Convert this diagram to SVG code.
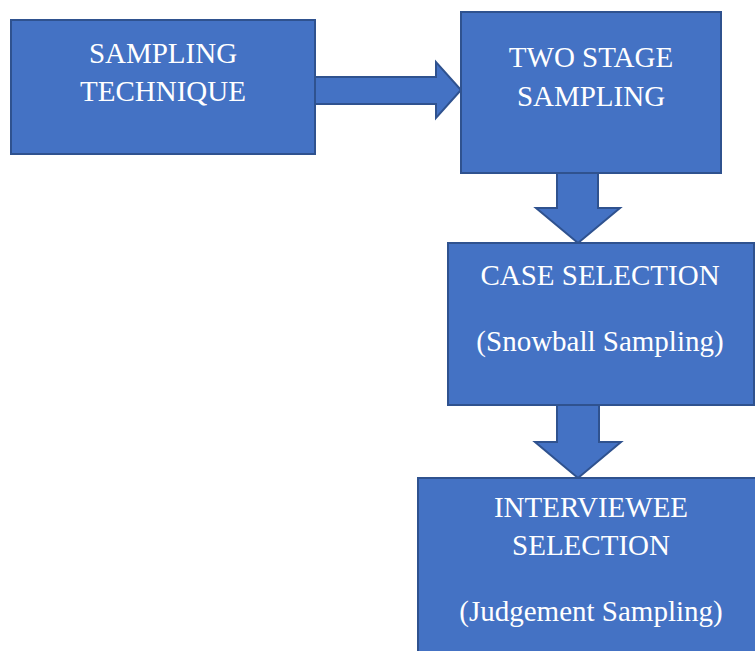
<svg xmlns="http://www.w3.org/2000/svg" width="755" height="651" viewBox="0 0 755 651">
  <style>
    .box { fill: #4472C4; stroke: #2F528F; stroke-width: 2; }
    .arrow { fill: #4472C4; stroke: #2F528F; stroke-width: 2; stroke-linejoin: miter; }
    .label { font-family: "Liberation Serif", "Times New Roman", serif; font-size: 29px; fill: #FFFFFF; text-anchor: middle; }
  </style>
  <rect width="755" height="651" fill="#FFFFFF"/>

  <g id="connectors">
    <!-- block arrow: technique -> two stage -->
    <polygon class="arrow" points="315,77 436,77 436,62 461,90 436,118 436,104 315,104"/>
    <!-- block arrow: two stage -> case selection -->
    <polygon class="arrow" points="557,173 598,173 598,208 620,208 578,243 536,208 557,208"/>
    <!-- block arrow: case selection -> interviewee selection -->
    <polygon class="arrow" points="557,405 599,405 599,442 621,442 578,478 535,442 557,442"/>
  </g>

  <g id="sampling-technique">
    <rect class="box" x="11" y="20" width="304" height="134"/>
    <text class="label" x="163" y="63">SAMPLING</text>
    <text class="label" x="163" y="101">TECHNIQUE</text>
  </g>

  <g id="two-stage-sampling">
    <rect class="box" x="461" y="12" width="260" height="161"/>
    <text class="label" x="591" y="67">TWO STAGE</text>
    <text class="label" x="591" y="106">SAMPLING</text>
  </g>

  <g id="case-selection">
    <rect class="box" x="448" y="243" width="306" height="162"/>
    <text class="label" x="600" y="285">CASE SELECTION</text>
    <text class="label" x="600" y="351">(Snowball Sampling)</text>
  </g>

  <g id="interviewee-selection">
    <rect class="box" x="418" y="478" width="345" height="190"/>
    <text class="label" x="591" y="517">INTERVIEWEE</text>
    <text class="label" x="591" y="555">SELECTION</text>
    <text class="label" x="591" y="621">(Judgement Sampling)</text>
  </g>
</svg>
